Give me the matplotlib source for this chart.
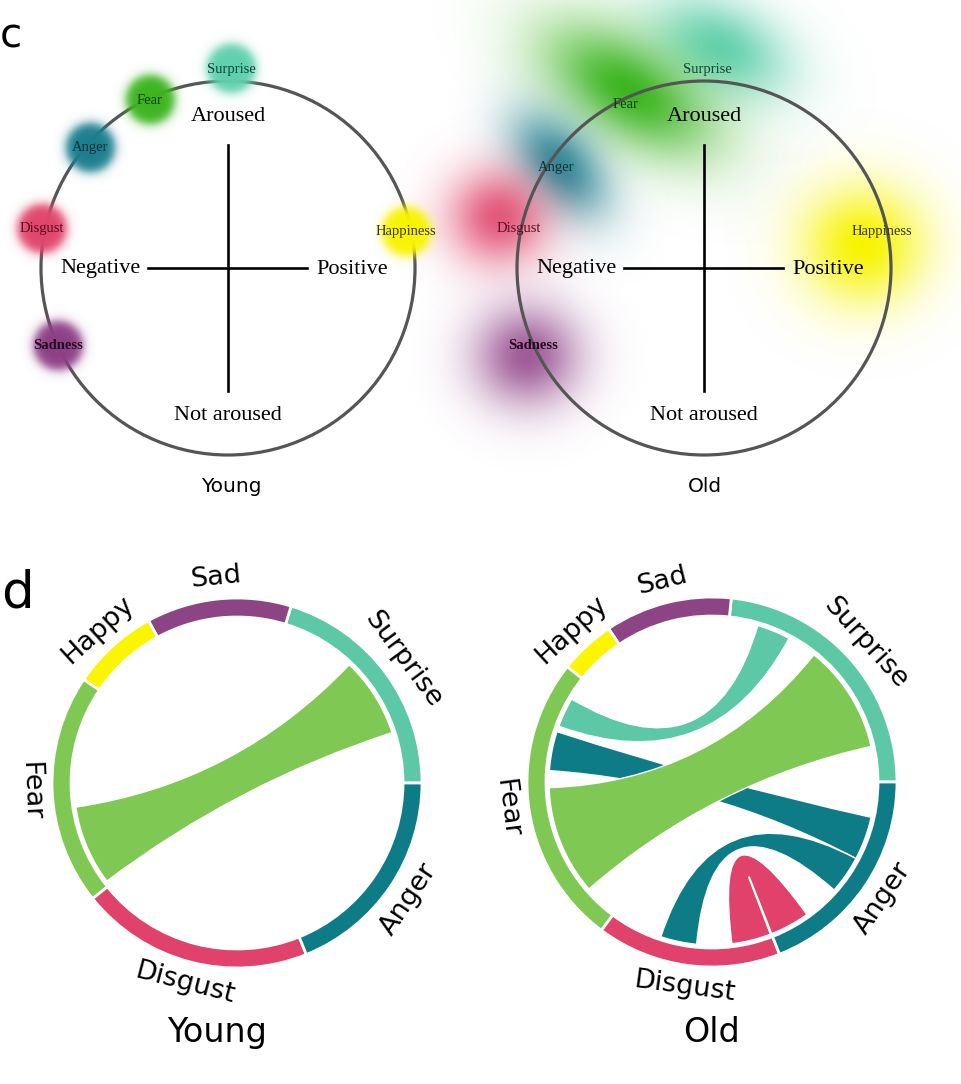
import numpy as np
import matplotlib.pyplot as plt
from matplotlib.colors import to_rgb
from matplotlib.patches import Circle, Wedge, PathPatch
from matplotlib.path import Path

# ---- panel c: circumplex positions (valence, arousal), unit = circle radius
emotions = ['Surprise', 'Fear', 'Anger', 'Disgust', 'Sadness', 'Happiness']
blob_colors = ['#5fd0ad', '#3cb51f', '#1b7e8f', '#e0466c', '#8e3f86', '#f8f400']
text_colors = ['#0b4636', '#0d3a07', '#08323b', '#5a0b1f', '#24091f', '#383500']

young_val = [0.016, -0.417, -0.738, -0.995, -0.909, 0.952]
young_aro = [1.064, 0.898, 0.642, 0.209, -0.417, 0.193]

old_label_val = [0.016, -0.417, -0.791, -0.989, -0.914, 0.952]
old_label_aro = [1.064, 0.872, 0.535, 0.209, -0.417, 0.193]
old_blob_val = [0.09, -0.40, -0.77, -1.10, -0.95, 0.85]
old_blob_aro = [1.18, 0.95, 0.55, 0.27, -0.47, 0.12]
old_spread_x = [0.27, 0.36, 0.23, 0.19, 0.20, 0.23]
old_spread_y = [0.17, 0.19, 0.14, 0.18, 0.19, 0.22]
old_tilt = [-25, -32, -50, 0, 0, 0]
old_peak = [0.95, 1.0, 0.9, 0.9, 0.85, 1.0]

# ---- panel d: chord diagrams (angles in degrees, counter-clockwise from east)
groups = ['Surprise', 'Sad', 'Happy', 'Fear', 'Disgust', 'Anger']
group_colors = ['#5cc8a6', '#8c4485', '#fbf500', '#7ec853', '#e0426b', '#0e7c86']
young_bounds = [0, 73, 118.6, 146, 218.7, 292, 360]
old_bounds = [0, 84, 124, 141.5, 233.3, 291.4, 360]
young_chords = [('Fear', (188.5, 217), (18, 46.5))]
old_chords = [
    ('Anger', (332, 347.5), (162, 176)),
    ('Anger', (318.5, 332), (251.7, 264.6)),
    ('Surprise', (61.8, 73.7), (149.4, 160)),
    ('Disgust', (277, 291), (291.5, 305.6)),
    ('Fear', (182, 221), (12.6, 51.3)),
]

W, H = 962, 1084
fig = plt.figure(figsize=(W / 100, H / 100), dpi=100)
ax = fig.add_axes([0, 0, 1, 1])
ax.set_xlim(0, W)
ax.set_ylim(0, H)
ax.axis('off')

serif = 'Liberation Serif'
sans = 'DejaVu Sans'


def blob(cx, cy, color, sx, sy, tilt, peak, disk=False, z=3):
    half = 3.2 * max(sx, sy)
    n = 180
    xs = np.linspace(cx - half, cx + half, n)
    ys = np.linspace(cy - half, cy + half, n)
    X, Y = np.meshgrid(xs, ys)
    t = np.radians(tilt)
    u = (X - cx) * np.cos(t) + (Y - cy) * np.sin(t)
    v = -(X - cx) * np.sin(t) + (Y - cy) * np.cos(t)
    if disk:
        d = np.hypot(u, v)
        a = peak / (1 + np.exp((d - sx) / sy))
    else:
        a = peak * np.exp(-0.5 * ((u / sx) ** 2 + (v / sy) ** 2))
    img = np.zeros((n, n, 4))
    img[..., :3] = to_rgb(color)
    img[..., 3] = a
    ax.imshow(img, extent=(cx - half, cx + half, cy - half, cy + half),
              origin='lower', interpolation='bilinear', aspect='auto', zorder=z)


def circumplex(c, R, old):
    cx, cy = c
    ax.add_patch(Circle(c, R, fill=False, ec='#555555', lw=2.3, zorder=2))
    ax.plot([cx, cx], [cy - 0.66 * R, cy + 0.66 * R], color='black', lw=1.9, zorder=2)
    ax.plot([cx - 0.43 * R, cx + 0.42 * R], [cy, cy], color='black', lw=1.9, zorder=2)
    ax.text(cx, cy + 0.81 * R, 'Aroused', family=serif, fontsize=16, ha='center', va='center', zorder=5)
    ax.text(cx, cy - 0.79 * R, 'Not aroused', family=serif, fontsize=16, ha='center', va='center', zorder=5)
    ax.text(cx - 0.465 * R, cy, 'Negative', family=serif, fontsize=16, ha='right', va='center', zorder=5)
    ax.text(cx + 0.47 * R, cy - 2, 'Positive', family=serif, fontsize=16, ha='left', va='center', zorder=5)
    for i, name in enumerate(emotions):
        if old:
            blob(cx + old_blob_val[i] * R, cy + old_blob_aro[i] * R, blob_colors[i],
                 old_spread_x[i] * R, old_spread_y[i] * R, old_tilt[i], old_peak[i], z=1)
            lx, ly = cx + old_label_val[i] * R, cy + old_label_aro[i] * R
        else:
            lx, ly = cx + young_val[i] * R, cy + young_aro[i] * R
            blob(lx, ly, blob_colors[i], 24.5, 2.8, 0, 1.0, disk=True, z=3)
        ax.text(lx, ly, name, family=serif, fontsize=10.5, color=text_colors[i],
                ha='center', va='center', zorder=5,
                weight='bold' if name == 'Sadness' else 'normal')


def pt(c, r, ang):
    t = np.radians(ang)
    return (c[0] + r * np.cos(t), c[1] + r * np.sin(t))


def ribbon(c, r, a, b, color):
    verts, codes = [], []
    arc_a = [pt(c, r, x) for x in np.linspace(a[0], a[1], 40)]
    verts += arc_a
    codes += [Path.MOVETO] + [Path.LINETO] * (len(arc_a) - 1)
    verts += [c, pt(c, r, b[0])]
    codes += [Path.CURVE3, Path.CURVE3]
    arc_b = [pt(c, r, x) for x in np.linspace(b[0], b[1], 40)]
    verts += arc_b[1:]
    codes += [Path.LINETO] * (len(arc_b) - 1)
    verts += [c, pt(c, r, a[0]), pt(c, r, a[0])]
    codes += [Path.CURVE3, Path.CURVE3, Path.CLOSEPOLY]
    ax.add_patch(PathPatch(Path(verts, codes), fc=color, ec='white', lw=1.0, zorder=2))


def chord(c, bounds, chords, title, title_x):
    r_out, width, r_in = 185, 19, 163
    for i, g in enumerate(groups):
        t0, t1 = bounds[i], bounds[i + 1]
        ax.add_patch(Wedge(c, r_out, t0, t1, width=width, fc=group_colors[i],
                           ec='white', lw=2, zorder=3))
        mid = (t0 + t1) / 2
        rot = mid - 90
        if rot > 90:
            rot -= 180
        x, y = pt(c, 207, mid)
        ax.text(x, y, g, family=sans, fontsize=19.5, rotation=rot, rotation_mode='anchor',
                ha='center', va='center', zorder=5)
    for src, a, b in chords:
        ribbon(c, r_in, a, b, group_colors[groups.index(src)])
    ax.text(title_x, 42, title, family=sans, fontsize=24, ha='center', va='baseline')


circumplex((228, H - 268), 187, old=False)
circumplex((704, H - 268), 187, old=True)
ax.text(231, H - 492, 'Young', family=sans, fontsize=14.5, ha='center', va='baseline')
ax.text(705, H - 492, 'Old', family=sans, fontsize=14.5, ha='center', va='baseline')

chord((237, H - 783), young_bounds, young_chords, 'Young', 217)
chord((712, H - 782), old_bounds, old_chords, 'Old', 712)

ax.text(0, H - 48, 'c', family=sans, fontsize=29, ha='left', va='baseline')
ax.text(1, H - 608, 'd', family=sans, fontsize=37, ha='left', va='baseline')

fig.savefig('out.png', dpi=100)
